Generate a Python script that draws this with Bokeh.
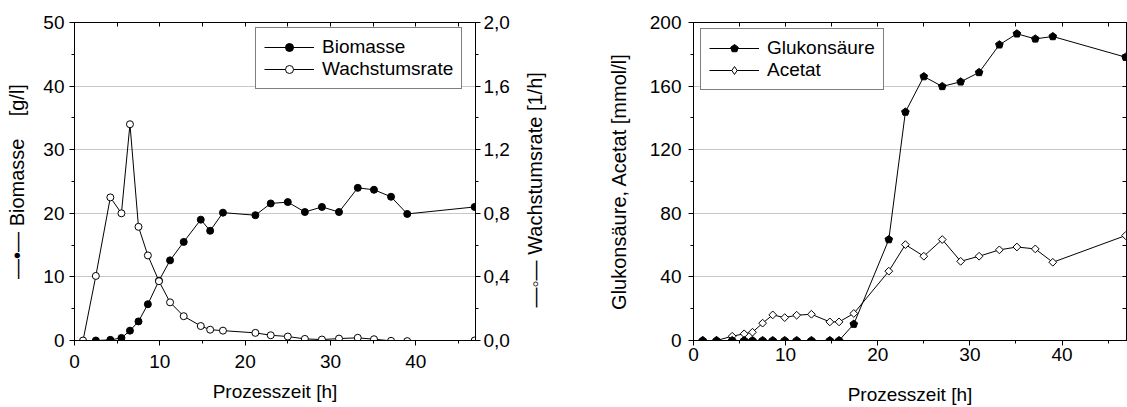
import math
from bokeh.plotting import figure
from bokeh.models import (Range1d, LinearAxis, FixedTicker, CustomJSTickFormatter,
                          Legend, LegendItem)
from bokeh.layouts import row
from bokeh.embed import file_html
from bokeh.resources import INLINE

FONT = "Liberation Sans"

# ---------------- data (left chart) ----------------
t_bio = [2.5, 4.2, 5.5, 6.5, 7.5, 8.6, 9.9, 11.2, 12.8, 14.8, 15.9, 17.4,
         21.2, 23.0, 25.0, 27.0, 29.0, 31.0, 33.2, 35.1, 37.1, 39.0, 46.9]
biomasse = [0.0, 0.1, 0.4, 1.55, 3.0, 5.7, 9.4, 12.6, 15.5, 19.0, 17.25, 20.1,
            19.7, 21.55, 21.76, 20.2, 21.0, 20.2, 24.0, 23.7, 22.6, 19.9, 21.0]
t_mu = [1.0, 2.5, 4.2, 5.5, 6.5, 7.5, 8.6, 9.9, 11.2, 12.8, 14.8, 15.9, 17.4,
        21.2, 23.0, 25.0, 27.0, 29.0, 31.0, 33.2, 35.1, 37.1, 39.0, 46.9]
wachstumsrate = [0.0, 0.406, 0.90, 0.80, 1.36, 0.715, 0.535, 0.373, 0.24, 0.153,
                 0.091, 0.068, 0.062, 0.048, 0.033, 0.025, 0.010, 0.006, 0.012,
                 0.017, 0.008, -0.002, -0.004, 0.0]

# ---------------- data (right chart) ----------------
t_r = [1.0, 2.5, 4.2, 5.5, 6.4, 7.5, 8.6, 9.9, 11.2, 12.8, 14.8, 15.8, 17.4,
       21.2, 23.0, 25.0, 27.0, 29.0, 31.0, 33.2, 35.1, 37.1, 39.0, 46.9]
glukonsaeure = [0, 0, 0, 0, 0, 0, 0, 0, 0, 0, 0, 0, 10.3, 63.5, 143.7, 166.0,
                159.8, 162.7, 168.6, 186.0, 192.9, 189.7, 191.2, 178.2]
acetat = [0, 0, 2.7, 4.2, 5.2, 10.9, 16.1, 14.4, 15.9, 16.5, 11.7, 11.7, 17.0,
          43.6, 60.3, 53.0, 63.5, 49.8, 53.0, 57.0, 58.8, 57.6, 49.2, 66.0]

x_major = [0, 10, 20, 30, 40]
x_minor = [5, 15, 25, 35, 45]
x_top = [0, 5, 10, 15, 20, 25, 30, 35, 40, 45]
yl_major = [0, 10, 20, 30, 40, 50]
yl_minor = [5, 15, 25, 35, 45]
mu_major = [0.0, 0.4, 0.8, 1.2, 1.6, 2.0]
mu_minor = [0.2, 0.6, 1.0, 1.4, 1.8]
yr_major = [0, 40, 80, 120, 160, 200]
yr_minor = [20, 60, 100, 140, 180]
yr_all = [0, 20, 40, 60, 80, 100, 120, 140, 160, 180, 200]

TICK_FS = "19px"
XTITLE_FS = "19px"
YTITLE_FS = "20px"
LEGEND_FS = "19px"
NB = "\u00a0"
BORDER_TOP = 22
BORDER_BOTTOM = 64


def style_axis(ax, standoff, title_standoff, title_fs):
    ax.axis_line_color = "black"
    ax.axis_line_width = 1
    ax.major_tick_line_color = "black"
    ax.minor_tick_line_color = "black"
    ax.major_tick_in = 0
    ax.major_tick_out = 5
    ax.minor_tick_in = 0
    ax.minor_tick_out = 3
    ax.major_label_text_font = FONT
    ax.major_label_text_font_size = TICK_FS
    ax.major_label_text_color = "black"
    ax.major_label_standoff = standoff
    ax.axis_label_text_font = FONT
    ax.axis_label_text_font_size = title_fs
    ax.axis_label_text_font_style = "normal"
    ax.axis_label_text_color = "black"
    ax.axis_label_standoff = title_standoff


def mirror(p, side, ticks):
    ax = LinearAxis(ticker=FixedTicker(ticks=ticks, minor_ticks=[]),
                    formatter=CustomJSTickFormatter(code="return '';"))
    ax.axis_line_color = "black"
    ax.major_tick_line_color = "black"
    ax.major_tick_in = 4
    ax.major_tick_out = 0
    ax.minor_tick_in = 0
    ax.minor_tick_out = 0
    ax.major_label_text_font_size = "0px"
    ax.major_label_standoff = 0
    p.add_layout(ax, side)


def make_legend(items, loc):
    lg = Legend(items=items, location=loc)
    lg.label_text_font = FONT
    lg.label_text_font_size = LEGEND_FS
    lg.label_text_color = "black"
    lg.glyph_width = 50
    lg.glyph_height = 20
    lg.label_height = 20
    lg.label_standoff = 8
    lg.padding = 8
    lg.spacing = 0
    lg.margin = 0
    lg.border_line_color = "black"
    lg.border_line_width = 1
    lg.background_fill_color = "white"
    lg.background_fill_alpha = 1
    lg.inactive_fill_alpha = 0
    return lg


# ================= left figure =================
p1 = figure(width=515, height=407, x_range=Range1d(0, 47), y_range=Range1d(0, 50),
            output_backend="svg", toolbar_location=None,
            min_border_left=74, min_border_right=40, min_border_top=BORDER_TOP,
            min_border_bottom=BORDER_BOTTOM)
p1.extra_y_ranges = {"mu": Range1d(0, 2)}
p1.outline_line_color = "black"
p1.background_fill_color = "white"
p1.border_fill_color = "white"
p1.xgrid.visible = False
p1.ygrid.grid_line_color = "#c8c8c8"
p1.ygrid.grid_line_width = 1

p1.xaxis.ticker = FixedTicker(ticks=x_major, minor_ticks=x_minor)
p1.yaxis.ticker = FixedTicker(ticks=yl_major, minor_ticks=yl_minor)
p1.xaxis.axis_label = "Prozesszeit [h]"
p1.yaxis.axis_label = "\u2014\u2022\u2014 Biomasse" + NB * 3 + " [g/l]"
for ax in p1.xaxis:
    style_axis(ax, standoff=9, title_standoff=10, title_fs=XTITLE_FS)
for ax in p1.yaxis:
    style_axis(ax, standoff=5, title_standoff=12, title_fs=YTITLE_FS)

ax_mu = LinearAxis(y_range_name="mu",
                   ticker=FixedTicker(ticks=mu_major, minor_ticks=mu_minor),
                   formatter=CustomJSTickFormatter(code="return tick.toFixed(1).replace('.', ',');"))
style_axis(ax_mu, standoff=3, title_standoff=10, title_fs=YTITLE_FS)
p1.add_layout(ax_mu, "right")
mirror(p1, "above", x_top)

lb = p1.line(t_bio, biomasse, line_color="black", line_width=1)
sb = p1.scatter(t_bio, biomasse, marker="circle", size=7,
                fill_color="black", line_color="black", line_width=1)
lgr = p1.line(t_mu, wachstumsrate, y_range_name="mu", line_color="black", line_width=1)
sgr = p1.scatter(t_mu, wachstumsrate, y_range_name="mu", marker="circle", size=7,
                 fill_color="white", line_color="black", line_width=1)

leg1 = make_legend([LegendItem(label="Biomasse", renderers=[lb, sb]),
                    LegendItem(label="Wachstumsrate", renderers=[lgr, sgr])],
                   (181, 251))
p1.add_layout(leg1)

# ---- narrow strip whose (bare) left axis carries the growth-rate axis title ----
p1b = figure(width=45, height=407, x_range=Range1d(0, 1), y_range=Range1d(0, 2),
             x_axis_location=None, y_axis_location="left",
             output_backend="svg", toolbar_location=None,
             min_border_left=44, min_border_right=0, min_border_top=BORDER_TOP,
             min_border_bottom=BORDER_BOTTOM)
p1b.outline_line_color = None
p1b.background_fill_color = "white"
p1b.border_fill_color = "white"
p1b.grid.visible = False
for ax in p1b.yaxis:
    ax.ticker = FixedTicker(ticks=[], minor_ticks=[])
    ax.axis_line_color = None
    ax.major_tick_in = 0
    ax.major_tick_out = 0
    ax.minor_tick_in = 0
    ax.minor_tick_out = 0
    ax.major_label_text_font_size = "0px"
    ax.major_label_standoff = 0
    ax.axis_label = "\u2014\u25e6\u2014 Wachstumsrate [1/h]" + NB * 3
    ax.axis_label_text_font = FONT
    ax.axis_label_text_font_size = YTITLE_FS
    ax.axis_label_text_font_style = "normal"
    ax.axis_label_text_color = "black"
    ax.axis_label_standoff = 14

# ================= right figure =================
p2 = figure(width=567, height=407, x_range=Range1d(0, 47), y_range=Range1d(0, 200),
            output_backend="svg", toolbar_location=None,
            min_border_left=133, min_border_right=1, min_border_top=BORDER_TOP,
            min_border_bottom=BORDER_BOTTOM)
p2.outline_line_color = "black"
p2.background_fill_color = "white"
p2.border_fill_color = "white"
p2.xgrid.visible = False
p2.ygrid.grid_line_color = "#c8c8c8"
p2.ygrid.grid_line_width = 1

p2.xaxis.ticker = FixedTicker(ticks=x_major, minor_ticks=x_minor)
p2.yaxis.ticker = FixedTicker(ticks=yr_major, minor_ticks=yr_minor)
p2.xaxis.axis_label = "Prozesszeit [h]"
p2.yaxis.axis_label = "Glukonsäure, Acetat [mmol/l]"
for ax in p2.xaxis:
    style_axis(ax, standoff=2, title_standoff=20, title_fs=XTITLE_FS)
for ax in p2.yaxis:
    style_axis(ax, standoff=7, title_standoff=17, title_fs=YTITLE_FS)
mirror(p2, "above", x_top)
mirror(p2, "right", yr_all)

la = p2.line(t_r, acetat, line_color="black", line_width=1)
sa = p2.scatter(t_r, acetat, marker="square", size=5.5, angle=math.pi / 4,
                fill_color="white", line_color="black", line_width=1)
# legend-only twin of the acetate markers (legend glyphs are drawn unrotated)
sa_leg = p2.scatter(t_r, acetat, marker="diamond", size=9, visible=False,
                    fill_color="white", line_color="black", line_width=1)
lgk = p2.line(t_r, glukonsaeure, line_color="black", line_width=1)
if hasattr(p2, "ngon"):
    sgk = p2.ngon(t_r, glukonsaeure, radius=4.0, radius_units="screen", n=5,
                  fill_color="black", line_color="black", line_width=1)
else:
    sgk = p2.scatter(t_r, glukonsaeure, marker="hex", size=8,
                     fill_color="black", line_color="black", line_width=1)

leg2 = make_legend([LegendItem(label="Glukonsäure", renderers=[lgk, sgk]),
                    LegendItem(label="Acetat", renderers=[la, sa_leg])],
                   (7, 250))
p2.add_layout(leg2)

layout = row(p1, p1b, p2)
open("out.html", "w").write(file_html(layout, INLINE))
